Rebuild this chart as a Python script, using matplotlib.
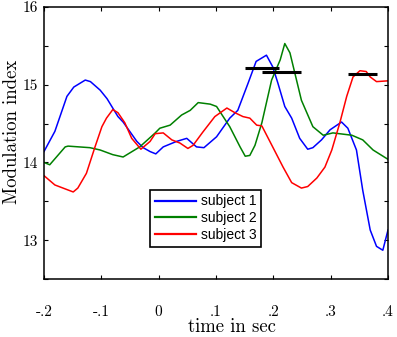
import matplotlib
matplotlib.use("Agg")
import matplotlib.pyplot as plt

# subject 1 (blue)
t1 = [-0.200, -0.181, -0.160, -0.148, -0.128, -0.119, -0.102, -0.090, -0.071, -0.062,
      -0.038, -0.027, -0.015, -0.005, 0.008, 0.031, 0.049, 0.066, 0.079, 0.101,
      0.124, 0.138, 0.156, 0.170, 0.188, 0.199, 0.208, 0.220, 0.232, 0.246,
      0.260, 0.269, 0.284, 0.299, 0.319, 0.330, 0.345, 0.356, 0.369, 0.380,
      0.391, 0.400]
s1 = [14.14, 14.40, 14.85, 14.97, 15.06, 15.04, 14.93, 14.82, 14.59, 14.52,
      14.27, 14.19, 14.14, 14.11, 14.20, 14.27, 14.31, 14.20, 14.19, 14.33,
      14.57, 14.67, 15.02, 15.30, 15.38, 15.23, 15.02, 14.72, 14.57, 14.31,
      14.17, 14.19, 14.29, 14.42, 14.52, 14.44, 14.16, 13.64, 13.13, 12.92,
      12.87, 13.13]

# subject 2 (green)
t2 = [-0.200, -0.190, -0.163, -0.158, -0.120, -0.102, -0.080, -0.062, -0.033, -0.006,
      0.002, 0.020, 0.040, 0.055, 0.069, 0.090, 0.101, 0.124, 0.142, 0.151,
      0.159, 0.168, 0.180, 0.197, 0.212, 0.220, 0.229, 0.249, 0.269, 0.287,
      0.304, 0.337, 0.356, 0.374, 0.400]
s2 = [14.00, 13.97, 14.20, 14.21, 14.19, 14.16, 14.10, 14.07, 14.20, 14.38,
      14.44, 14.48, 14.61, 14.67, 14.77, 14.75, 14.72, 14.46, 14.20, 14.08,
      14.09, 14.22, 14.51, 15.06, 15.32, 15.53, 15.41, 14.80, 14.46, 14.35,
      14.38, 14.35, 14.29, 14.16, 14.04]

# subject 3 (red)
t3 = [-0.200, -0.181, -0.149, -0.141, -0.126, -0.111, -0.099, -0.091, -0.080, -0.071,
      -0.059, -0.047, -0.031, -0.015, -0.006, 0.008, 0.023, 0.037, 0.051, 0.060,
      0.077, 0.098, 0.119, 0.133, 0.147, 0.159, 0.171, 0.180, 0.194, 0.217,
      0.232, 0.249, 0.260, 0.276, 0.290, 0.302, 0.316, 0.328, 0.339, 0.351,
      0.362, 0.369, 0.380, 0.400]
s3 = [13.83, 13.71, 13.62, 13.67, 13.86, 14.20, 14.46, 14.57, 14.68, 14.64,
      14.51, 14.31, 14.17, 14.27, 14.37, 14.38, 14.29, 14.25, 14.18, 14.22,
      14.39, 14.59, 14.70, 14.64, 14.59, 14.57, 14.48, 14.47, 14.27, 13.94,
      13.74, 13.67, 13.69, 13.80, 13.94, 14.16, 14.51, 14.85, 15.10, 15.18,
      15.17, 15.10, 15.04, 15.05]

# black horizontal bars (start, end, level)
bar_start = [0.151, 0.181, 0.331]
bar_end = [0.210, 0.249, 0.380]
bar_level = [15.21, 15.16, 15.14]

xticks = [-0.2, -0.1, 0.0, 0.1, 0.2, 0.3, 0.4]
xlabels = ['-.2', '-.1', '0', '.1', '.2', '.3', '.4']
yticks = [12.5, 13, 13.5, 14, 14.5, 15, 15.5, 16]
ylabels = ['', '13', '', '14', '', '15', '', '16']

serif = 'cmr10'

fig = plt.figure(figsize=(3.97, 3.37), dpi=100)
ax = fig.add_axes([0.1108, 0.1721, 0.8665, 0.8071])

l1, = ax.plot(t1, s1, color=(0, 0, 1), lw=1.1)
l2, = ax.plot(t2, s2, color=(0, 0.5, 0), lw=1.1)
l3, = ax.plot(t3, s3, color=(1, 0, 0), lw=1.1)
ax.hlines(bar_level, bar_start, bar_end, colors='k', lw=2.2, zorder=5)

ax.set_xlim(-0.2, 0.4)
ax.set_ylim(12.5, 16)
ax.set_xticks(xticks)
ax.set_xticklabels(xlabels, fontfamily=serif, fontsize=11)
ax.set_yticks(yticks)
ax.set_yticklabels(ylabels, fontfamily=serif, fontsize=11)
ax.tick_params(direction='in', length=3, width=0.8, top=True, right=True)
ax.tick_params(axis='x', pad=19)
ax.tick_params(axis='y', pad=4.5)
for sp in ax.spines.values():
    sp.set_linewidth(1.1)

ax.set_xlabel('time in sec', fontfamily=serif, fontsize=13.5)
ax.set_ylabel('Modulation index', fontfamily=serif, fontsize=13.5)
ax.xaxis.set_label_coords(0.547, -0.143)
ax.yaxis.set_label_coords(-0.068, 0.54)

leg = ax.legend([l1, l2, l3], ['subject 1', 'subject 2', 'subject 3'],
                loc='lower left', bbox_to_anchor=(0.308, 0.118),
                prop={'family': 'Liberation Sans', 'size': 10},
                frameon=True, fancybox=False, edgecolor='k', framealpha=1,
                borderpad=0.35, handlelength=3.0, handletextpad=0.3,
                labelspacing=0.2, borderaxespad=0)
leg.get_frame().set_linewidth(1.2)
for h in leg.get_lines():
    h.set_linewidth(1.6)

fig.savefig('out.png', dpi=100)
